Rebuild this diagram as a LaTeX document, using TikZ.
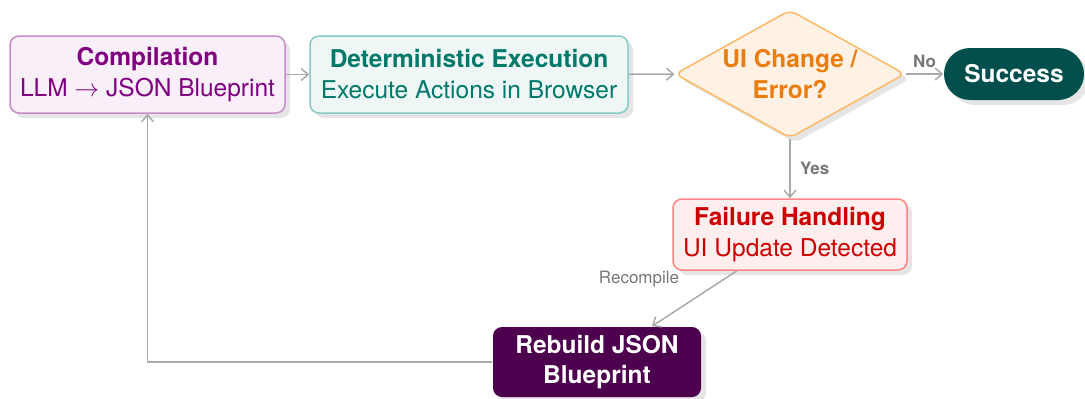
\documentclass[tikz,border=0pt]{standalone}
\usepackage{fontspec}
\setmainfont{TeX Gyre Heros}
\usetikzlibrary{arrows.meta,shapes.geometric,shadows}
\definecolor{cpText}{HTML}{800080}
\definecolor{cpDraw}{HTML}{C98BC9}
\definecolor{cpFill}{HTML}{F8EFF8}
\definecolor{exText}{HTML}{00796B}
\definecolor{exDraw}{HTML}{86CBC4}
\definecolor{exFill}{HTML}{EEF7F6}
\definecolor{dcText}{HTML}{EB7D0F}
\definecolor{dcDraw}{HTML}{FFB866}
\definecolor{dcFill}{HTML}{FFF2E5}
\definecolor{flText}{HTML}{CC0000}
\definecolor{flDraw}{HTML}{FF8585}
\definecolor{flFill}{HTML}{FFEEEE}
\definecolor{okFill}{HTML}{004F4D}
\definecolor{rbFill}{HTML}{4D004D}
\definecolor{edge}{HTML}{AAAAAA}
\definecolor{lbl}{HTML}{777777}
\tikzset{
  shad/.style={drop shadow={shadow xshift=5pt,shadow yshift=-5pt,fill=black!10,opacity=1}},
  boxbase/.style={rounded corners=9pt,line width=1.5pt,align=center,inner sep=0pt,
    font=\fontsize{24.5}{31}\selectfont,shad},
  decbox/.style={shape=diamond,aspect=1.8,rounded corners=7pt,line width=1.5pt,align=center,
    inner sep=0pt,minimum width=230pt,minimum height=128pt,draw=dcDraw,fill=dcFill,
    text=dcText,font=\fontsize{24.5}{31}\selectfont\bfseries,shad},
  conn/.style={draw=edge,line width=1.5pt,-{Straight Barb[length=7pt,width=12pt,line width=1.5pt]}},
  elabel/.style={text=lbl,font=\fontsize{17}{20}\selectfont\bfseries},
  elabelplain/.style={text=lbl,font=\fontsize{17}{20}\selectfont},
}
\begin{document}
\begin{tikzpicture}[x=1pt,y=-1pt]
\useasboundingbox (0,0) rectangle (1085,399);
\node[boxbase,draw=cpDraw,fill=cpFill,text=cpText,minimum width=275pt,minimum height=77pt]
  (comp) at (147.5,74.5) {\textbf{Compilation}\\LLM $\rightarrow$ JSON Blueprint};
\node[boxbase,draw=exDraw,fill=exFill,text=exText,minimum width=318pt,minimum height=77pt]
  (exec) at (469,74.5) {\textbf{Deterministic Execution}\\Execute Actions in Browser};
\node[decbox] (dec) at (790,74) {UI Change /\\Error?};
\node[boxbase,rounded corners=26pt,fill=okFill,text=white,minimum width=140pt,minimum height=52pt,
  font=\fontsize{24.5}{31}\selectfont\bfseries] (ok) at (1014,74) {Success};
\node[boxbase,draw=flDraw,fill=flFill,text=flText,minimum width=234pt,minimum height=71pt]
  (fail) at (790,234.5) {\textbf{Failure Handling}\\UI Update Detected};
\node[boxbase,fill=rbFill,text=white,minimum width=208pt,minimum height=70pt,
  font=\fontsize{24.5}{30}\selectfont\bfseries] (rb) at (597,362) {Rebuild JSON\\Blueprint};
\draw[conn] (comp) -- (exec);
\draw[conn] (exec) -- (dec);
\draw[conn] (dec) -- node[elabel,above=2pt] (no) {No} (ok);
\draw[conn] (dec) -- node[elabel,right=6pt] (yes) {Yes} (fail);
\draw[conn] ([xshift=-53pt]fail.south) -- node[elabelplain,pos=0.15,left=41pt] (rec) {Recompile} ([xshift=55pt]rb.north);
\draw[conn] (rb.west) -| (comp.south);
\end{tikzpicture}
\end{document}
